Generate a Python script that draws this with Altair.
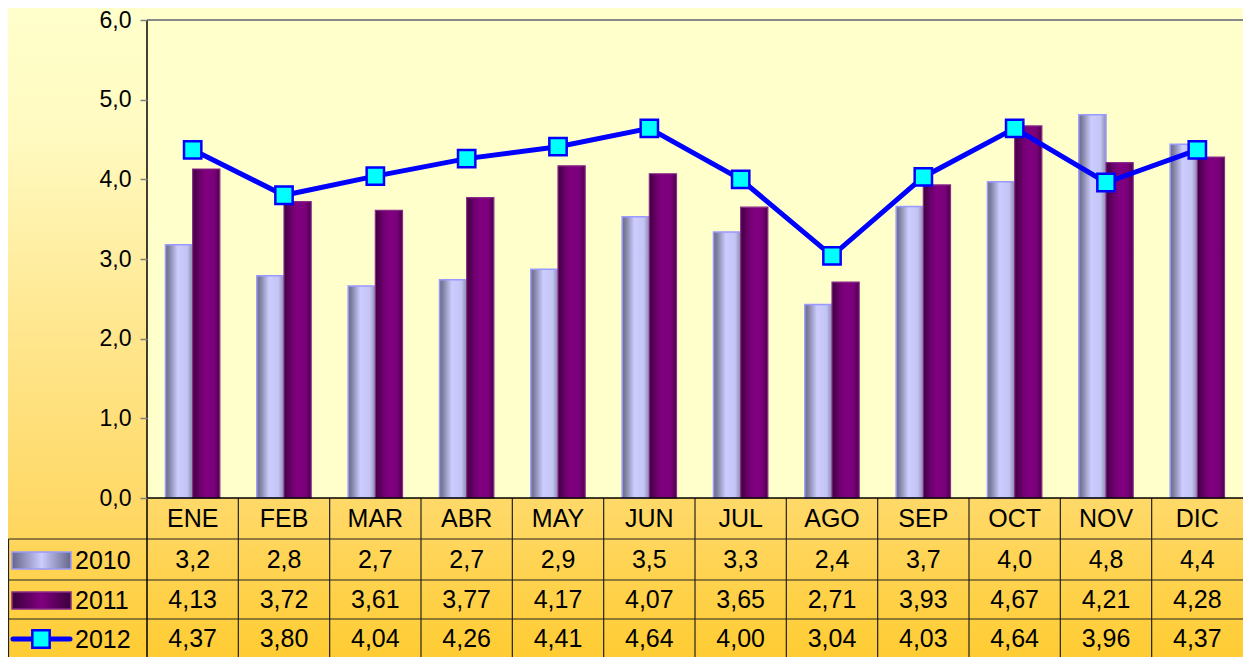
import altair as alt
import pandas as pd

months = ["ENE", "FEB", "MAR", "ABR", "MAY", "JUN", "JUL", "AGO", "SEP", "OCT", "NOV", "DIC"]
v2010 = [3.18, 2.79, 2.66, 2.74, 2.87, 3.53, 3.34, 2.43, 3.66, 3.97, 4.81, 4.44]
v2011 = [4.13, 3.72, 3.61, 3.77, 4.17, 4.07, 3.65, 2.71, 3.93, 4.67, 4.21, 4.28]
v2012 = [4.37, 3.80, 4.04, 4.26, 4.41, 4.64, 4.00, 3.04, 4.03, 4.64, 3.96, 4.37]
series = ["2010", "2011", "2012"]
y_ticks = [0, 1, 2, 3, 4, 5, 6]

W, H = 1096, 637
PLOT_H = 478
TOP = 12
FONT = "Liberation Sans"

rows = []
for s, vals in zip(series, [v2010, v2011, v2012]):
    for m, v in zip(months, vals):
        rows.append({"month": m, "serie": s, "value": v})
df = pd.DataFrame(rows)
one = pd.DataFrame({"k": [0]})
mdf = pd.DataFrame({"month": months})

xscale = alt.Scale(domain=months, paddingInner=0, paddingOuter=0)
yscale = alt.Scale(domain=[0, 6], range=[PLOT_H, 0])
X = alt.X("month:N", scale=xscale, axis=None, sort=months)


def grad(stops, vertical=False):
    return alt.Gradient(
        gradient="linear",
        stops=[alt.GradientStop(offset=o, color=c) for o, c in stops],
        x1=0, x2=0 if vertical else 1, y1=0, y2=1 if vertical else 0,
    )


bg = alt.Chart(one).mark_rect(
    fill=grad([(0, "#FFFFCC"), (0.2, "#FFFAC0"), (0.5, "#FFE68E"), (0.78, "#FFD865"), (1, "#FFCC33")], vertical=True)
).encode(x=alt.value(-139), x2=alt.value(W), y=alt.value(-TOP), y2=alt.value(H))

plotbg = alt.Chart(one).mark_rect(fill="#FFFFCC").encode(
    x=alt.value(0), x2=alt.value(W), y=alt.value(0), y2=alt.value(PLOT_H)
)

top_border = alt.Chart(one).mark_rule(color="#888888", strokeWidth=2).encode(
    x=alt.value(0), x2=alt.value(W), y=alt.value(0)
)

# table rows (pixel layout below the plot area)
ROW_LINES = [519, 560, 599]
HEADER_Y = 499
row_y = {"2010": 540, "2011": 580, "2012": 619}

vlines = alt.Chart(mdf).transform_filter("datum.month != 'ENE'").mark_rule(
    color="#222222", strokeWidth=1.2
).encode(x=alt.X("month:N", scale=xscale, axis=None, sort=months, bandPosition=0),
         y=alt.value(PLOT_H), y2=alt.value(H))
hl = []
for yy in ROW_LINES:
    hl.append(alt.Chart(one).mark_rule(color="#222222", strokeWidth=1.2).encode(
        x=alt.value(-138.5), x2=alt.value(W), y=alt.value(yy)))
left_outer = alt.Chart(one).mark_rule(color="#222222", strokeWidth=1.2).encode(
    x=alt.value(-138.5), y=alt.value(ROW_LINES[0]), y2=alt.value(H))

g2010 = grad([(0, "#6A6A88"), (0.12, "#7E7E9E"), (0.45, "#CCCCFF"), (0.8, "#C4C4F4"), (1, "#8A8AAA")])
g2011 = grad([(0, "#3E003E"), (0.3, "#700070"), (0.5, "#800080"), (0.8, "#7A007A"), (1, "#4A004A")])

xoff = alt.XOffset("serie:N", scale=alt.Scale(domain=["2010", "2011"], paddingInner=0, paddingOuter=0.68))
bars10 = alt.Chart(df).transform_filter("datum.serie == '2010'").mark_bar(
    fill=g2010, stroke="#9999FF", strokeWidth=1.5
).encode(
    x=X, xOffset=xoff,
    y=alt.Y("value:Q", scale=yscale,
            axis=alt.Axis(values=y_ticks, title=None, grid=False, domain=False, zindex=1,
                          labelExpr="replace(format(datum.value, '.1f'), '.', ',')",
                          labelFont=FONT, labelFontSize=23, labelColor="#000000",
                          labelPadding=9, tickColor="#808080", tickSize=7, tickWidth=1.5)),
)
bars11 = alt.Chart(df).transform_filter("datum.serie == '2011'").mark_bar(
    fill=g2011, stroke="#8A2A8A", strokeWidth=1.2
).encode(x=X, xOffset=xoff, y=alt.Y("value:Q", scale=yscale))

axis_line = alt.Chart(one).mark_rule(color="#000000", strokeWidth=1.5).encode(
    x=alt.value(0), y=alt.value(0), y2=alt.value(H))
x_line = alt.Chart(one).mark_rule(color="#000000", strokeWidth=1.5).encode(
    x=alt.value(0), x2=alt.value(W), y=alt.value(PLOT_H))

d12 = alt.Chart(df).transform_filter("datum.serie == '2012'")
line12 = d12.mark_line(color="#0000FF", strokeWidth=5).encode(x=X, y=alt.Y("value:Q", scale=yscale))
pts12 = d12.mark_square(fill="#00FFFF", stroke="#0000FF", strokeWidth=2.5, size=300, opacity=1).encode(
    x=X, y=alt.Y("value:Q", scale=yscale))

txt_style = dict(font=FONT, fontSize=25, color="#000000", baseline="middle", align="center")
header = alt.Chart(mdf).mark_text(**txt_style).encode(x=X, y=alt.value(HEADER_Y), text="month:N")

fmt = {"2010": ".1f", "2011": ".2f", "2012": ".2f"}
row_txt = []
for s in series:
    row_txt.append(
        alt.Chart(df).transform_filter(f"datum.serie == '{s}'").transform_calculate(
            lab=f"replace(format(datum.value, '{fmt[s]}'), '.', ',')"
        ).mark_text(**txt_style).encode(x=X, y=alt.value(row_y[s]), text="lab:N")
    )

# legend swatches in the table's first column
leg_df = pd.DataFrame({"serie": series})
leg_txt = []
for s in series:
    leg_txt.append(alt.Chart(leg_df).transform_filter(f"datum.serie == '{s}'").mark_text(
        font=FONT, fontSize=25, color="#000000", baseline="middle", align="left"
    ).encode(x=alt.value(-72), y=alt.value(row_y[s] + 1), text="serie:N"))

y10, y11, y12 = row_y["2010"], row_y["2011"], row_y["2012"]
sw2010 = alt.Chart(one).mark_rect(
    fill=grad([(0, "#66668A"), (0.5, "#CCCCFF"), (1, "#66668A")]), stroke="#9999FF", strokeWidth=1.5
).encode(x=alt.value(-135), x2=alt.value(-76), y=alt.value(y10 - 8), y2=alt.value(y10 + 9))
sw2011 = alt.Chart(one).mark_rect(
    fill=grad([(0, "#3A003A"), (0.5, "#800080"), (1, "#3A003A")]), stroke="#8A2A8A", strokeWidth=1.5
).encode(x=alt.value(-135), x2=alt.value(-76), y=alt.value(y11 - 8), y2=alt.value(y11 + 9))
sw2012l = alt.Chart(one).mark_rule(color="#0000FF", strokeWidth=5, strokeCap="round").encode(
    x=alt.value(-134), x2=alt.value(-77), y=alt.value(y12))
sw2012p = alt.Chart(one).mark_square(fill="#00FFFF", stroke="#0000FF", strokeWidth=2.5, size=300, opacity=1).encode(
    x=alt.value(-106), y=alt.value(y12))

chart = alt.layer(
    bg, plotbg, top_border, vlines, *hl, left_outer,
    bars10, bars11, axis_line, x_line, line12, pts12,
    header, *row_txt, *leg_txt, sw2010, sw2011, sw2012l, sw2012p,
).properties(
    width=W, height=H,
    autosize=alt.AutoSizeParams(type="none"),
    padding={"left": 139, "top": TOP, "right": 0, "bottom": 0},
    background="#FFFFCC",
).configure_view(stroke=None)

chart.save("out.html", embed_options={"renderer": "svg", "actions": False})
